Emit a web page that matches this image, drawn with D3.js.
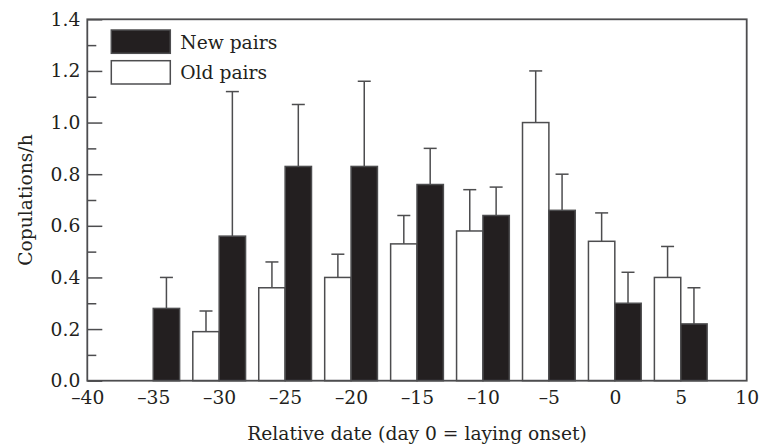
<!DOCTYPE html>
<html>
<head>
<meta charset="utf-8">
<script src="https://cdn.jsdelivr.net/npm/d3@7"></script>
<style>
    body { margin: 0; background: #fff; }
    text { font-family: "DejaVu Serif", serif; fill: #231f20; }
</style>
</head>
<body>
<div id="chart1"></div>
<script>
// data
const days = [-35, -30, -25, -20, -15, -10, -5, 0, 5];
const newMean = [0.28, 0.56, 0.83, 0.83, 0.76, 0.64, 0.66, 0.30, 0.22];
const newSE = [0.12, 0.56, 0.24, 0.33, 0.14, 0.11, 0.14, 0.12, 0.14];
const oldMean = [null, 0.19, 0.36, 0.40, 0.53, 0.58, 1.00, 0.54, 0.40];
const oldSE = [null, 0.08, 0.10, 0.09, 0.11, 0.16, 0.20, 0.11, 0.12];
const xTicks = [-40, -35, -30, -25, -20, -15, -10, -5, 0, 5, 10];
const yMajor = [0, 0.2, 0.4, 0.6, 0.8, 1.0, 1.2, 1.4];
const yMinor = [0.1, 0.3, 0.5, 0.7, 0.9, 1.1, 1.3];
const legendItems = [
    { key: "New pairs", fill: "#231f20" },
    { key: "Old pairs", fill: "#ffffff" }
];

const width = 761;
const height = 444;
const margin = { top: 19.3, left: 87.3, bottom: 63.3, right: 14.3 };
const innerW = width - margin.left - margin.right;
const innerH = height - margin.top - margin.bottom;
const fontSize = 18.7;
const lineColor = "#4d4d4f";
const barDays = 2; // each bar is two days wide

const svg = d3.select("#chart1").append("svg").attr("width", width).attr("height", height);

const xScale = d3.scaleLinear().domain([-40, 10]).range([0, innerW]);
const yScale = d3.scaleLinear().domain([0, 1.4]).range([innerH, 0]);

const g = svg.append("g").attr("transform", `translate(${margin.left},${margin.top})`);

const rows = days.map((d, i) => ({
    day: d,
    newMean: newMean[i], newSE: newSE[i],
    oldMean: oldMean[i], oldSE: oldSE[i]
}));

// bars: old pairs left of the tick, new pairs right of it
const bars = [];
rows.forEach(r => {
    if (r.oldMean != null) bars.push({ x0: r.day - barDays, x1: r.day, v: r.oldMean, se: r.oldSE, fill: "#ffffff" });
    bars.push({ x0: r.day, x1: r.day + barDays, v: r.newMean, se: r.newSE, fill: "#231f20" });
});

// error bars (upper only), drawn first so bars sit on top
g.selectAll("line.err")
    .data(bars)
    .join("line")
    .attr("class", "err")
    .attr("x1", d => xScale((d.x0 + d.x1) / 2))
    .attr("x2", d => xScale((d.x0 + d.x1) / 2))
    .attr("y1", d => yScale(d.v))
    .attr("y2", d => yScale(d.v + d.se))
    .attr("stroke", lineColor)
    .attr("stroke-width", 1.5);

g.selectAll("line.cap")
    .data(bars)
    .join("line")
    .attr("class", "cap")
    .attr("x1", d => xScale((d.x0 + d.x1) / 2) - 6.5)
    .attr("x2", d => xScale((d.x0 + d.x1) / 2) + 6.5)
    .attr("y1", d => yScale(d.v + d.se))
    .attr("y2", d => yScale(d.v + d.se))
    .attr("stroke", lineColor)
    .attr("stroke-width", 1.5);

g.selectAll("rect.bar")
    .data(bars)
    .join("rect")
    .attr("class", "bar")
    .attr("x", d => xScale(d.x0))
    .attr("y", d => yScale(d.v))
    .attr("width", d => xScale(d.x1) - xScale(d.x0))
    .attr("height", d => yScale(0) - yScale(d.v))
    .attr("fill", d => d.fill)
    .attr("stroke", lineColor)
    .attr("stroke-width", 1.5);

// y axis, ticks point inward
const yAxis = g.append("g")
    .attr("class", "y-axis")
    .call(d3.axisLeft(yScale).tickValues(yMajor).tickSize(-15).tickPadding(7).tickFormat(d3.format(".1f")));
yAxis.select(".domain").remove();

const yAxisMinor = g.append("g")
    .attr("class", "y-axis-minor")
    .call(d3.axisLeft(yScale).tickValues(yMinor).tickSize(-9).tickFormat(""));
yAxisMinor.select(".domain").remove();

const xAxis = g.append("g")
    .attr("class", "x-axis")
    .attr("transform", `translate(0,${innerH})`)
    .call(d3.axisBottom(xScale).tickValues(xTicks).tickSize(0).tickPadding(10.5)
        .tickFormat(d => d < 0 ? "\u2013" + Math.abs(d) : d));
xAxis.select(".domain").remove();

svg.selectAll(".tick line").attr("stroke", lineColor).attr("stroke-width", 1.5);
svg.selectAll(".tick text").attr("font-size", fontSize).attr("fill", "#231f20").attr("font-family", "DejaVu Serif, serif");

// frame
g.append("rect")
    .attr("x", 0)
    .attr("y", 0)
    .attr("width", innerW)
    .attr("height", innerH)
    .attr("fill", "none")
    .attr("stroke", lineColor)
    .attr("stroke-width", 1.8);

// legend
const legend = g.selectAll("g.legend")
    .data(legendItems)
    .join("g")
    .attr("class", "legend")
    .attr("transform", (d, i) => `translate(24,${10.7 + i * 30.7})`);

legend.append("rect")
    .attr("width", 59)
    .attr("height", 23.3)
    .attr("fill", d => d.fill)
    .attr("stroke", lineColor)
    .attr("stroke-width", 1.5);

legend.append("text")
    .attr("x", 69)
    .attr("y", 18.5)
    .attr("font-size", fontSize)
    .text(d => d.key);

// axis titles
svg.append("text")
    .attr("x", margin.left + innerW / 2)
    .attr("y", 440)
    .attr("text-anchor", "middle")
    .attr("font-size", fontSize)
    .text("Relative date (day 0 = laying onset)");

svg.append("text")
    .attr("transform", `translate(32,${margin.top + innerH / 2}) rotate(-90)`)
    .attr("text-anchor", "middle")
    .attr("font-size", fontSize)
    .text("Copulations/h");
</script>
</body>
</html>
